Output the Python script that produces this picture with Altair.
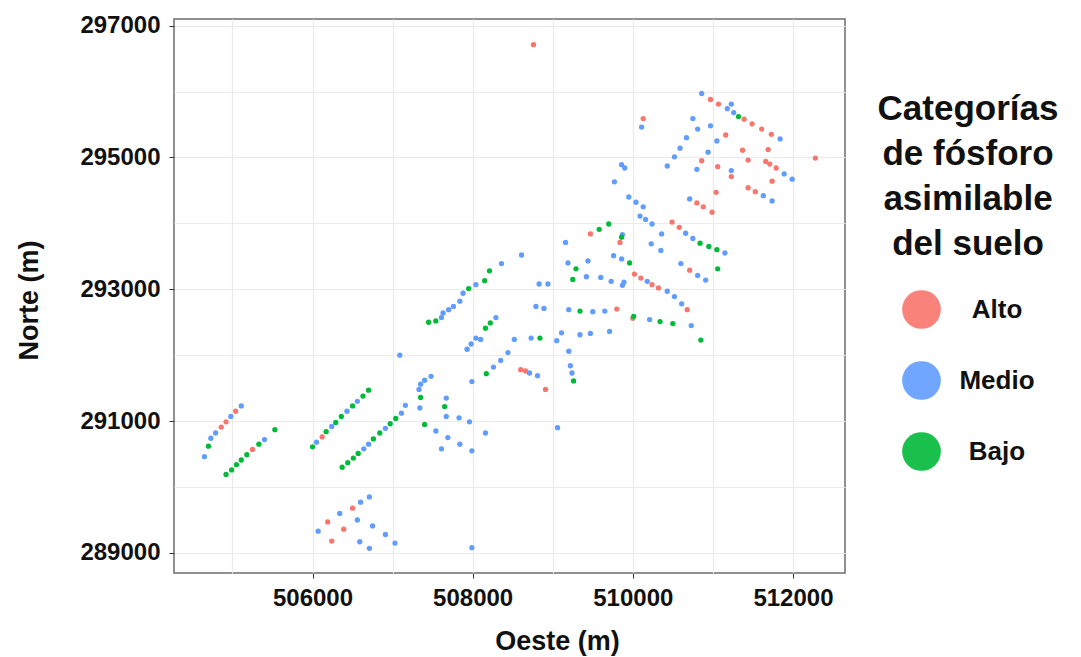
import altair as alt
import pandas as pd

# ---- data ----
categories = ["Alto", "Medio", "Bajo"]
colors = ["#F8766D", "#619CFF", "#00BA38"]

alto_x = [508760, 510970, 511070, 511390, 511490, 511610, 511730, 510130, 511160, 511370,
          511690, 512280, 510860, 511440, 511660, 511710, 511790, 511060, 511230, 511740,
          511040, 511440, 511530, 510800, 510880, 510990, 510490, 510580, 510710, 509470,
          509840, 510020, 510100, 510240, 510320, 510680, 509800, 510000, 508600, 508660,
          508910, 506120, 505040, 504920, 504860, 505250, 506500, 506190, 506390, 506240]
alto_y = [296710, 295880, 295810, 295580, 295510, 295430, 295350, 295590, 295340, 295110,
          295120, 294990, 294950, 294960, 294940, 294900, 294840, 294860, 294710, 294640,
          294470, 294540, 294480, 294310, 294250, 294170, 294020, 293940, 293290, 293840,
          293710, 293230, 293170, 293070, 293020, 292690, 292700, 292560, 291780, 291760,
          291480, 290760, 291150, 290990, 290910, 290570, 289680, 289470, 289360, 289180]

medio_x = [510860, 511230, 511180, 511260, 511840, 510110, 510750, 510810, 510970, 510670,
           511050, 510590, 510940, 510520, 509860, 509900, 510430, 510800, 511230, 511890,
           511990, 509770, 511630, 511740, 509950, 510040, 510130, 510710, 510090, 510160,
           510240, 510660, 510750, 511150, 510360, 510230, 510350, 510600, 510810, 510910,
           509870, 509160, 508610, 508360, 509190, 509440, 509760, 509860, 509420, 509600,
           509730, 509890, 509870, 510180, 510430, 510520, 510610, 510730, 508830, 508940,
           508790, 508890, 509200, 509500, 509650, 510210, 508520, 508730, 509110, 509050,
           509340, 509470, 509710, 509200, 509220, 509240, 508440, 508350, 508710, 508810,
           509060, 508040, 507880, 507840, 507760, 507700, 507630, 507610, 508290, 508100,
           508040, 507980, 507930, 508260, 507990, 507090, 507480, 507400, 507350, 507330,
           507340, 507670, 507670, 507830, 507960, 508160, 507540, 507690, 507840, 507610,
           507990, 506560, 506430, 506240, 506050, 507160, 507110, 506910, 506700, 506640,
           505110, 504980, 504790, 504730, 504650, 505400, 506710, 506600, 506340, 506070,
           506560, 506750, 506910, 507030, 506590, 506710, 507990]
medio_y = [295970, 295810, 295740, 295680, 295280, 295460, 295590, 295430, 295480, 295300,
           295250, 295140, 295080, 295010, 294890, 294840, 294870, 294820, 294800, 294750,
           294670, 294630, 294420, 294340, 294400, 294320, 294250, 294370, 294110, 294060,
           293990, 293850, 293770, 293550, 293840, 293690, 293590, 293390, 293210, 293140,
           293830, 293710, 293520, 293390, 293400, 293430, 293510, 293460, 293190, 293180,
           293120, 293110, 293060, 293120, 292970, 292890, 292780, 292450, 293080, 293080,
           292740, 292710, 292690, 292660, 292670, 292540, 292240, 292260, 292340, 292220,
           292310, 292330, 292360, 292060, 291840, 291730, 292040, 291920, 291730, 291690,
           290900, 293070, 292940, 292820, 292740, 292690, 292640, 292570, 292570, 292240,
           292260, 292170, 292090, 291820, 291600, 292000, 291680, 291620, 291560, 291480,
           291200, 291350, 291070, 291050, 290990, 290820, 290850, 290750, 290650, 290580,
           290550, 291300, 291150, 290920, 290680, 291240, 291120, 290890, 290650, 290580,
           291230, 291070, 290820, 290740, 290460, 290720, 289850, 289770, 289600, 289330,
           289500, 289410, 289280, 289150, 289170, 289070, 289080]

bajo_x = [511320, 510840, 510950, 511050, 511060, 509580, 509700, 509860, 509290, 509250,
          509960, 510850, 509340, 510010, 510340, 510500, 508840, 509260, 508210, 508150,
          507950, 507540, 507450, 508220, 508160, 508170, 506700, 507350, 507400, 507650,
          506630, 506500, 506360, 506290, 506170, 506000, 507040, 506970, 506840, 506760,
          506570, 506510, 506440, 506370, 504700, 505530, 505330, 505180, 505110, 505050,
          504990, 504920]
bajo_y = [295620, 293700, 293650, 293600, 293310, 293910, 293990, 293790, 293310, 293150,
          293400, 292230, 292670, 292590, 292510, 292480, 292260, 291610, 293280, 293130,
          293010, 292520, 292500, 292490, 292410, 291720, 291470, 291360, 290950, 291220,
          291380, 291230, 291070, 290980, 290840, 290610, 291040, 290960, 290820, 290730,
          290510, 290440, 290370, 290300, 290620, 290870, 290650, 290490, 290410, 290340,
          290260, 290190]

x_ticks = list(range(505000, 513000, 1000))
y_ticks = list(range(289000, 298000, 1000))
x_labeled = [506000, 508000, 510000, 512000]
y_labeled = [289000, 291000, 293000, 295000, 297000]

rows = []
for cat, xs, ys in (("Alto", alto_x, alto_y), ("Medio", medio_x, medio_y), ("Bajo", bajo_x, bajo_y)):
    for xv, yv in zip(xs, ys):
        rows.append({"oeste": xv, "norte": yv, "cat": cat})
df = pd.DataFrame(rows)

FONT = "Liberation Sans"


def label_expr(vals):
    return "indexof([" + ",".join(str(v) for v in vals) + "], datum.value) >= 0 ? datum.label : ''"


def tick_color(vals):
    return {"condition": {"test": "indexof([" + ",".join(str(v) for v in vals) + "], datum.value) >= 0",
                          "value": "#333333"},
            "value": "transparent"}


chart = alt.Chart(df).mark_circle(size=28, opacity=1).encode(
    x=alt.X("oeste:Q",
            scale=alt.Scale(domain=[504270, 512650], zero=False, nice=False),
            axis=alt.Axis(values=x_ticks, format="d", labelExpr=label_expr(x_labeled),
                          tickColor=tick_color(x_labeled), tickSize=5, labelPadding=8,
                          title="Oeste (m)", titleX=383, titleY=68,
                          titleBaseline="middle", titleAlign="center")),
    y=alt.Y("norte:Q",
            scale=alt.Scale(domain=[288696, 297100], zero=False, nice=False),
            axis=alt.Axis(values=y_ticks, format="d", labelExpr=label_expr(y_labeled),
                          tickColor=tick_color(y_labeled), tickSize=5, labelPadding=9,
                          title="Norte (m)", titleX=-145, titleY=281,
                          titleBaseline="middle", titleAlign="center", titleAngle=270)),
    color=alt.Color("cat:N",
                    scale=alt.Scale(domain=categories, range=colors),
                    sort=categories,
                    legend=alt.Legend(
                        title=["Categorías", "de fósforo", "asimilable", "del suelo"],
                        orient="none", legendX=704, legendY=73,
                        titleFont=FONT, titleFontSize=35, titleFontWeight="bold",
                        titleColor="#111111",
                        titleAlign="center", titleAnchor="middle", titleLineHeight=45,
                        titlePadding=28, titleLimit=400,
                        symbolType="circle", symbolSize=1500, symbolStrokeWidth=0,
                        symbolOpacity=0.9,
                        labelFont=FONT, labelFontSize=26, labelFontWeight="bold",
                        labelColor="#111111", labelAlign="center", labelOffset=56,
                        labelLimit=300, rowPadding=32)),
).properties(
    width=671, height=554,
    autosize=alt.AutoSizeParams(type="none"),
    padding={"left": 174, "top": 19, "right": 236, "bottom": 84},
    background="white",
).configure_view(
    stroke="#6e6e6e", strokeWidth=1.5
).configure_axis(
    domain=False, grid=True, gridColor="#ebebeb", gridWidth=1.2,
    labelFont=FONT, labelFontSize=24, labelFontWeight="bold", labelColor="#111111",
    titleFont=FONT, titleFontSize=27, titleFontWeight="bold", titleColor="#111111",
)

chart.save("out.html", embed_options={"renderer": "svg", "actions": False})
